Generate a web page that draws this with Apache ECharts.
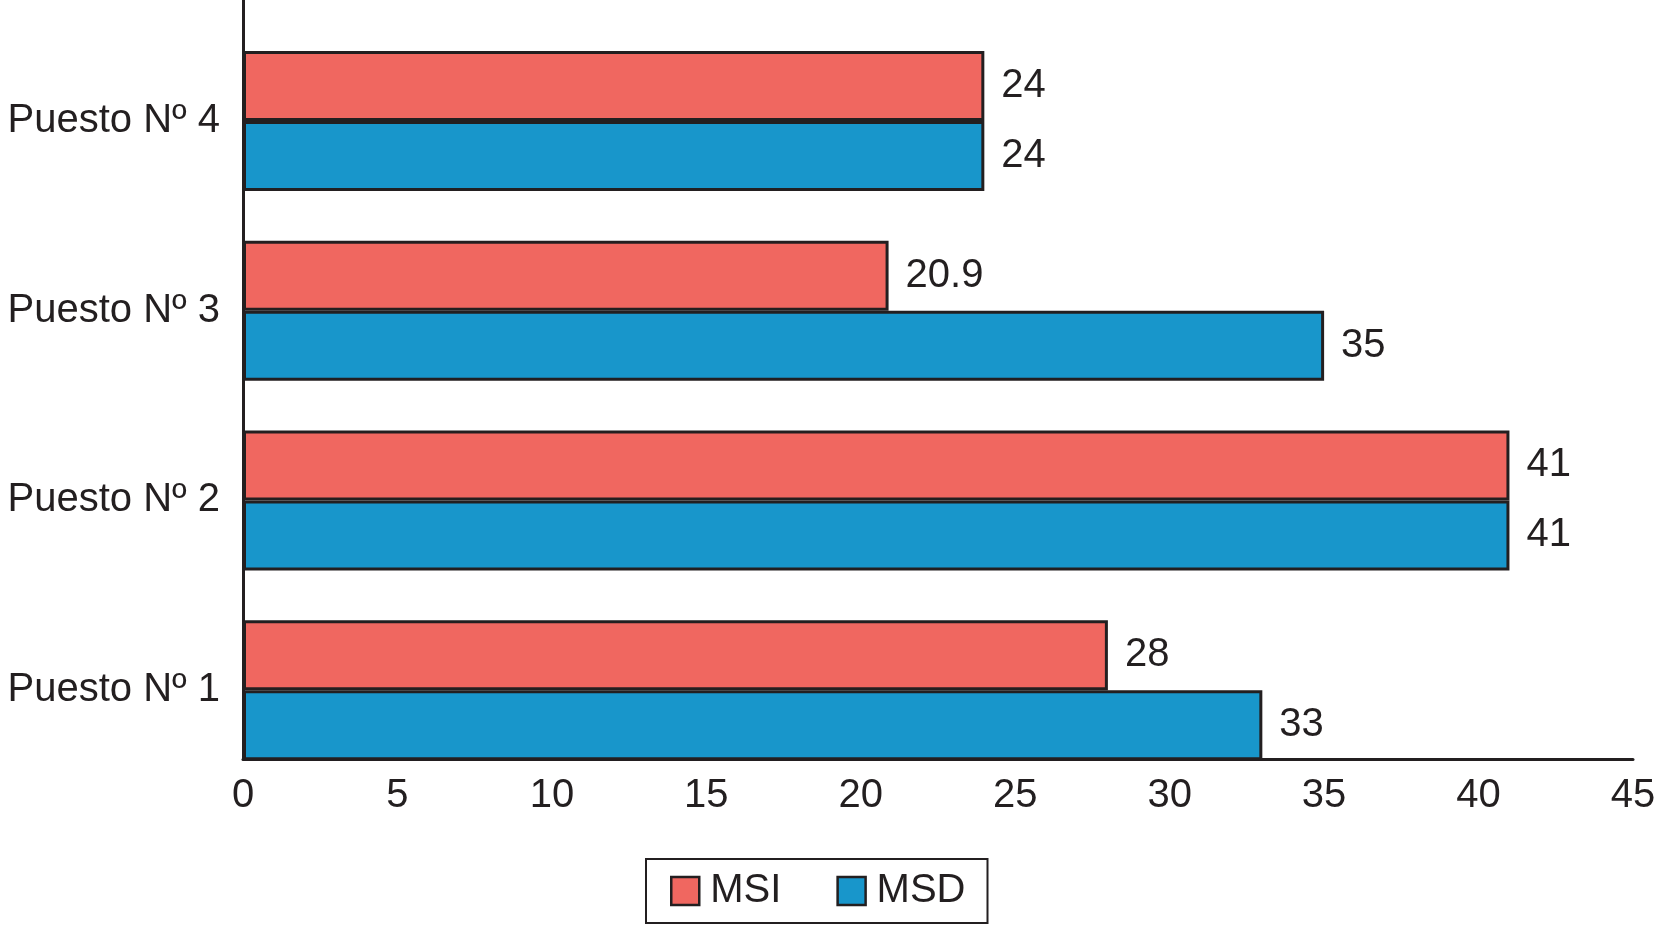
<!DOCTYPE html>
<html>
<head>
<meta charset="utf-8">
<script src="https://cdn.jsdelivr.net/npm/echarts@6/dist/echarts.min.js"></script>
<style>
html,body{margin:0;padding:0;background:#fff;}
#chart{width:1659px;height:926px;}
</style>
</head>
<body>
<div id="chart"></div>
<script>
const categories = ['Puesto Nº 1', 'Puesto Nº 2', 'Puesto Nº 3', 'Puesto Nº 4'];
const msiValues = [28, 41, 20.9, 24];
const msdValues = [33, 41, 35, 24];
const xTicks = { min: 0, max: 45, interval: 5 };

const ink = '#231f20';
const font = 'Liberation Sans, Arial, Helvetica, sans-serif';

const chart = echarts.init(document.getElementById('chart'));
const labelCfg = {
  show: true, position: 'right', distance: 17,
  fontSize: 40, fontFamily: font, color: ink
};
chart.setOption({
  animation: false,
  backgroundColor: '#fff',
  grid: [
    { left: 243, right: 26, top: 26, height: 759, containLabel: false },
    { left: 243, right: 26, top: 0, height: 759, containLabel: false }
  ],
  legend: {
    data: ['MSI', 'MSD'],
    left: 646, top: 859,
    orient: 'horizontal',
    padding: [12, 22, 12, 24],
    itemGap: 55,
    itemWidth: 28, itemHeight: 28,
    borderColor: ink, borderWidth: 2,
    icon: 'rect',
    textStyle: { fontSize: 40, fontFamily: font, color: ink, lineHeight: 40, padding: [0, 0, 0, 6] },
    itemStyle: { borderColor: ink, borderWidth: 2.5 }
  },
  xAxis: [
    { gridIndex: 0, type: 'value', min: xTicks.min, max: xTicks.max, interval: xTicks.interval, show: false },
    { gridIndex: 1, type: 'value', min: xTicks.min, max: xTicks.max, interval: xTicks.interval,
      axisLine: { show: true, lineStyle: { color: ink, width: 3 } },
      axisTick: { show: false }, splitLine: { show: false },
      axisLabel: { fontSize: 40, fontFamily: font, color: ink, margin: 17 } }
  ],
  yAxis: [
    { gridIndex: 0, type: 'category', data: categories,
      axisLine: { show: false }, axisTick: { show: false }, splitLine: { show: false },
      axisLabel: { fontSize: 40, fontFamily: font, color: ink, margin: 23 } },
    { gridIndex: 1, type: 'value', min: 0, max: 1,
      axisLine: { show: true, lineStyle: { color: ink, width: 3 } },
      axisTick: { show: false }, splitLine: { show: false }, axisLabel: { show: false } }
  ],
  series: [
    { name: 'MSI', type: 'bar', xAxisIndex: 0, yAxisIndex: 0, data: msiValues,
      barWidth: 70, barGap: '0%',
      itemStyle: { color: '#f06760', borderColor: ink, borderWidth: 3 },
      label: labelCfg },
    { name: 'MSD', type: 'bar', xAxisIndex: 0, yAxisIndex: 0, data: msdValues,
      barWidth: 70, barGap: '0%',
      itemStyle: { color: '#1896cb', borderColor: ink, borderWidth: 3 },
      label: labelCfg }
  ]
});
</script>
</body>
</html>
